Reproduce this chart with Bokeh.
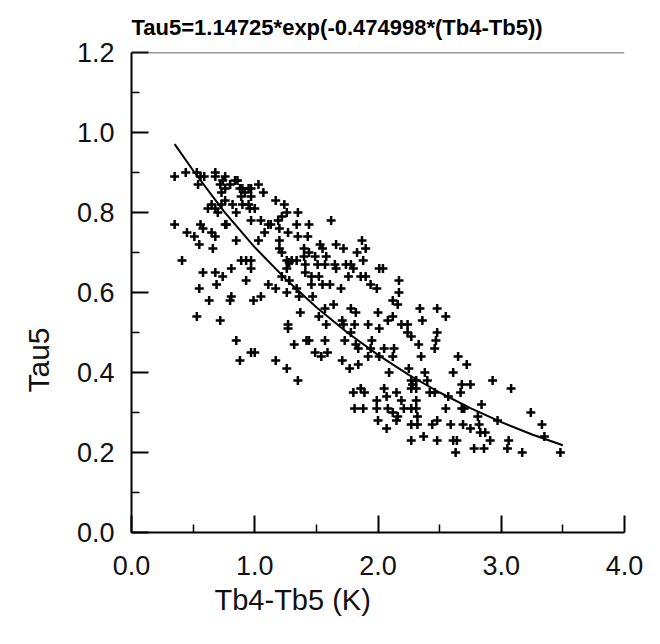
from bokeh.plotting import figure
from bokeh.models import Range1d, FixedTicker, PrintfTickFormatter, Span, Title
from bokeh.embed import file_html
from bokeh.resources import INLINE

FONT = "Liberation Sans"

title_text = "Tau5=1.14725*exp(-0.474998*(Tb4-Tb5))"
x_label = "Tb4-Tb5 (K)"
y_label = "Tau5"

x_ticks = [0.0, 1.0, 2.0, 3.0, 4.0]
x_minor = [0.5, 1.5, 2.5, 3.5]
y_ticks = [0.0, 0.2, 0.4, 0.6, 0.8, 1.0, 1.2]
y_minor = [0.1, 0.3, 0.5, 0.7, 0.9, 1.1]

# scatter observations (Tb4-Tb5, Tau5)
tb_diff = [
    0.35, 0.44, 0.53, 0.56, 0.59, 0.68, 0.68, 0.76, 0.74, 0.72, 0.76, 0.80, 0.84, 0.86,
    0.88, 0.90, 0.92, 0.89, 0.95, 0.97, 1.03, 1.07, 0.97, 0.95, 0.96, 1.00, 0.54, 0.73,
    0.76, 0.65, 0.62, 0.68, 0.70, 0.73, 0.82, 0.85, 0.90, 1.05, 0.97, 1.11, 1.17, 1.24,
    1.26, 1.22, 1.19, 1.13, 1.20, 1.35, 1.34, 1.27, 1.35, 0.76, 0.77, 0.35, 0.45, 0.51,
    0.56, 0.58, 0.65, 0.68, 0.85, 1.03, 1.08, 1.20, 1.20, 1.22, 1.26, 1.28, 1.30, 1.34,
    1.26, 0.55, 0.66, 0.41, 0.89, 0.93, 0.97, 0.81, 0.58, 0.68, 0.74, 0.97, 0.93, 0.69,
    1.11, 1.17, 1.26, 0.55, 0.63, 0.80, 0.81, 0.99, 1.05, 1.36, 1.22, 1.28, 1.34,
    1.44, 1.62, 1.43, 1.53, 1.55, 1.66, 1.72, 1.87, 1.90, 1.83, 1.88, 1.40, 1.40, 1.44,
    1.49, 1.58, 1.51, 1.57, 1.65, 1.66, 1.74, 1.78, 1.80, 1.41, 1.41, 1.46, 1.52, 1.76,
    1.86, 1.90, 2.01, 2.04, 1.46, 1.55, 1.61, 1.70, 1.94, 1.99, 2.17, 2.17, 2.12, 2.16,
    1.47, 1.57, 1.64, 1.78, 2.34, 2.48,
    0.53, 0.72, 0.85, 0.88, 0.97, 1.00, 1.17, 1.26, 1.35, 1.27, 1.27, 1.32, 1.37,
    1.52, 1.58, 1.71, 1.72, 1.82, 1.81, 2.00, 2.12, 2.08, 1.92, 2.01, 2.19, 2.24, 2.24,
    2.36, 1.78, 2.27, 2.48, 2.47, 2.33, 1.42, 1.44, 1.57, 1.73, 1.82, 1.95, 1.84, 1.94,
    2.05, 2.13, 2.12, 1.92, 1.49, 1.54, 1.59, 2.46, 2.35, 1.71, 1.84, 1.77, 2.01, 2.09,
    2.25, 2.38, 2.27, 2.31, 2.40, 2.28, 2.31, 2.27, 2.42, 2.46, 2.31, 1.80, 1.86, 1.89,
    2.05, 2.07, 2.15, 1.99, 2.19, 1.99, 2.08, 2.12, 2.16, 2.21, 2.27, 2.31, 1.81, 1.88,
    2.00, 2.07, 2.27, 2.32, 2.15, 2.32, 2.48, 2.44, 2.37, 2.27, 2.48,
    2.55, 2.65, 2.72, 2.61, 2.93, 3.08, 2.68, 2.75, 2.67, 2.57, 2.84, 2.55, 2.68, 2.70,
    2.81, 2.97, 3.24, 3.33, 3.35, 3.48, 2.69, 2.82, 2.59, 2.75, 2.83, 2.87, 2.91, 2.61,
    2.64, 3.06, 2.78, 2.86, 3.05, 3.17, 2.63,
]
tau5 = [
    0.89, 0.90, 0.90, 0.89, 0.89, 0.90, 0.89, 0.89, 0.88, 0.87, 0.86, 0.87, 0.88, 0.88,
    0.86, 0.86, 0.85, 0.84, 0.86, 0.86, 0.87, 0.85, 0.84, 0.82, 0.81, 0.81, 0.87, 0.85,
    0.83, 0.82, 0.81, 0.81, 0.80, 0.82, 0.82, 0.80, 0.82, 0.78, 0.78, 0.77, 0.83, 0.82,
    0.80, 0.79, 0.78, 0.77, 0.76, 0.80, 0.77, 0.75, 0.74, 0.77, 0.77, 0.77, 0.75, 0.74,
    0.77, 0.76, 0.75, 0.74, 0.73, 0.73, 0.75, 0.73, 0.71, 0.70, 0.68, 0.675, 0.68, 0.68,
    0.66, 0.72, 0.71, 0.68, 0.68, 0.68, 0.68, 0.66, 0.65, 0.65, 0.64, 0.66, 0.63, 0.62,
    0.62, 0.61, 0.60, 0.61, 0.58, 0.58, 0.59, 0.58, 0.59, 0.59, 0.64, 0.63, 0.61,
    0.77, 0.78, 0.74, 0.72, 0.71, 0.72, 0.71, 0.73, 0.71, 0.70, 0.68, 0.71, 0.69, 0.70,
    0.69, 0.69, 0.67, 0.67, 0.67, 0.66, 0.67, 0.67, 0.66, 0.67, 0.65, 0.64, 0.64, 0.64,
    0.64, 0.64, 0.66, 0.66, 0.62, 0.62, 0.62, 0.61, 0.62, 0.61, 0.63, 0.60, 0.58, 0.57,
    0.59, 0.56, 0.57, 0.56, 0.56, 0.56,
    0.54, 0.53, 0.48, 0.43, 0.45, 0.45, 0.43, 0.41, 0.38, 0.52, 0.51, 0.47, 0.55,
    0.54, 0.52, 0.53, 0.52, 0.55, 0.52, 0.55, 0.54, 0.53, 0.52, 0.51, 0.52, 0.52, 0.50,
    0.53, 0.50, 0.49, 0.50, 0.48, 0.47, 0.48, 0.48, 0.48, 0.48, 0.47, 0.48, 0.46, 0.46,
    0.46, 0.46, 0.44, 0.44, 0.45, 0.44, 0.45, 0.46, 0.44, 0.43, 0.42, 0.41, 0.44, 0.40,
    0.41, 0.40, 0.38, 0.38, 0.38, 0.37, 0.36, 0.36, 0.35, 0.35, 0.33, 0.35, 0.36, 0.35,
    0.36, 0.34, 0.35, 0.33, 0.33, 0.31, 0.31, 0.30, 0.29, 0.31, 0.31, 0.31, 0.31, 0.31,
    0.28, 0.26, 0.27, 0.27, 0.28, 0.29, 0.28, 0.27, 0.24, 0.23, 0.23,
    0.54, 0.44, 0.42, 0.40, 0.38, 0.36, 0.37, 0.37, 0.35, 0.34, 0.32, 0.31, 0.31, 0.31,
    0.29, 0.28, 0.30, 0.27, 0.24, 0.20, 0.27, 0.27, 0.27, 0.26, 0.25, 0.25, 0.23, 0.23,
    0.23, 0.23, 0.21, 0.21, 0.21, 0.20, 0.20,
]

# fitted curve
fit_x = [0.35, 0.50, 0.75, 1.00, 1.25, 1.50, 1.75, 2.00, 2.25, 2.50, 2.75, 3.00, 3.25, 3.50]
fit_y = [0.971, 0.905, 0.803, 0.713, 0.634, 0.563, 0.500, 0.444, 0.394, 0.350, 0.311, 0.276, 0.245, 0.218]

p = figure(width=644, height=628, output_backend="svg", toolbar_location=None,
           x_range=Range1d(0, 4), y_range=Range1d(0, 1.2),
           min_border_left=130, min_border_right=20, min_border_top=51, min_border_bottom=96)
p.outline_line_color = None
p.grid.visible = False
p.background_fill_color = "white"
p.border_fill_color = "white"

p.title.text = title_text
p.title.align = "left"
p.title.vertical_align = "bottom"
p.title.text_font = FONT
p.title.text_font_size = "22px"
p.title.text_font_style = "bold"
p.title.text_color = "black"
p.title.standoff = 25

for ax in (p.xaxis[0], p.yaxis[0]):
    ax.axis_line_width = 2
    ax.axis_line_color = "black"
    ax.major_tick_line_width = 2
    ax.major_tick_line_color = "black"
    ax.minor_tick_line_width = 1.5
    ax.minor_tick_line_color = "black"
    ax.major_tick_in = 17
    ax.major_tick_out = 0
    ax.minor_tick_in = 8
    ax.minor_tick_out = 0
    ax.major_label_text_font = FONT
    ax.major_label_text_font_size = "27px"
    ax.major_label_text_color = "#111111"
    ax.formatter = PrintfTickFormatter(format="%.1f")

p.xaxis[0].major_label_standoff = 23
p.yaxis[0].major_label_standoff = 17
p.xaxis[0].ticker = FixedTicker(ticks=x_ticks, minor_ticks=x_minor)
p.yaxis[0].ticker = FixedTicker(ticks=y_ticks, minor_ticks=y_minor)

p.add_layout(Span(location=1.2, dimension="width", line_color="#333333", line_width=1.5))

p.add_layout(Title(text=y_label, align="left", offset=140, standoff=38,
                   text_font=FONT, text_font_size="30px", text_font_style="normal",
                   text_color="#111111"), "left")
p.add_layout(Title(text=x_label, align="left", offset=83, standoff=8,
                   vertical_align="bottom",
                   text_font=FONT, text_font_size="29px", text_font_style="normal",
                   text_color="#111111"), "below")

p.line(fit_x, fit_y, line_width=2, line_color="black")
p.scatter(tb_diff, tau5, marker="cross", size=9, line_width=2.5, line_color="black")

open("out.html", "w").write(file_html(p, INLINE))
